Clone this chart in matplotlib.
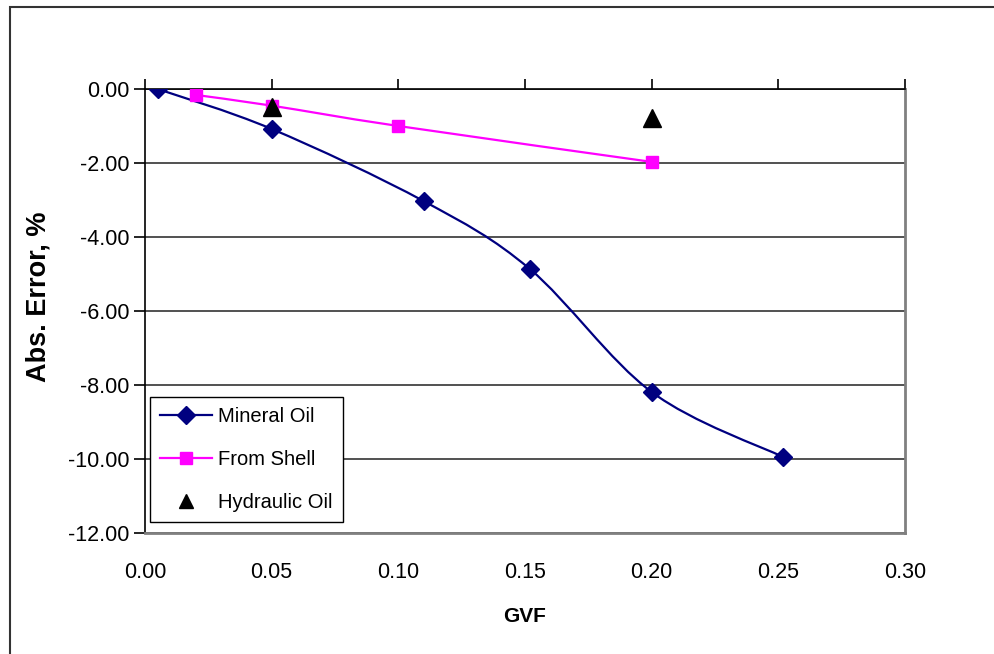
import numpy as np
import matplotlib.pyplot as plt
from matplotlib.path import Path
from matplotlib.patches import PathPatch, Rectangle
from matplotlib.lines import Line2D

plt.rcParams['font.family'] = ['Liberation Sans', 'DejaVu Sans']

# data
mineral_gvf = [0.005, 0.05, 0.11, 0.152, 0.20, 0.252]
mineral_err = [0.0, -1.08, -3.03, -4.87, -8.19, -9.95]

shell_gvf = [0.02, 0.05, 0.10, 0.20]
shell_err = [-0.16, -0.45, -1.00, -1.97]

hydraulic_gvf = [0.05, 0.20]
hydraulic_err = [-0.49, -0.78]

x_ticks = [0.00, 0.05, 0.10, 0.15, 0.20, 0.25, 0.30]
y_ticks = [0, -2, -4, -6, -8, -10, -12]


def smooth_path(xs, ys):
    # Excel-style smoothed line: cubic bezier segments through the points
    pts = np.column_stack([xs, ys])
    n = len(pts)
    verts = [pts[0]]
    codes = [Path.MOVETO]
    for i in range(n - 1):
        p0 = pts[i - 1] if i > 0 else pts[i]
        p1 = pts[i]
        p2 = pts[i + 1]
        p3 = pts[i + 2] if i + 2 < n else pts[i + 1]
        c1 = p1 + (p2 - p0) / 6.0
        c2 = p2 - (p3 - p1) / 6.0
        verts += [c1, c2, p2]
        codes += [Path.CURVE4] * 3
    return Path(verts, codes)


fig = plt.figure(figsize=(9.95, 6.54), dpi=100)
ax = fig.add_axes([145 / 995, 1 - 533 / 654, 760 / 995, 444 / 654])

# outer chart frame
fig.patches.append(Rectangle((10 / 995, -0.05), 1.2, 1 - 7 / 654 + 0.05,
                             transform=fig.transFigure, fill=False,
                             edgecolor='#333333', linewidth=1.5))

navy = '#000080'
magenta = '#FF00FF'

ax.add_patch(PathPatch(smooth_path(mineral_gvf, mineral_err), fill=False,
                       edgecolor=navy, linewidth=1.6, zorder=3))
ax.add_patch(PathPatch(smooth_path(shell_gvf, shell_err), fill=False,
                       edgecolor=magenta, linewidth=1.6, zorder=3))

ax.plot(mineral_gvf, mineral_err, linestyle='none', marker='D', markersize=9,
        color=navy, zorder=4)
ax.plot(shell_gvf, shell_err, linestyle='none', marker='s', markersize=9,
        color=magenta, zorder=4)
ax.plot(hydraulic_gvf, hydraulic_err, linestyle='none', marker='^',
        markersize=13, color='black', zorder=5)

ax.set_xlim(0, 0.30)
ax.set_ylim(-12, 0)
ax.set_xticks(x_ticks)
ax.set_yticks(y_ticks)
ax.set_xticklabels([f"{v:.2f}" for v in x_ticks])
ax.set_yticklabels([f"{v:.2f}" for v in y_ticks])

ax.grid(axis='y', color='#333333', linewidth=1.2, zorder=1)
ax.set_axisbelow(True)

ax.tick_params(axis='x', bottom=False, top=True, labelbottom=True,
               labeltop=False, direction='out', length=7, width=1.2,
               labelsize=15.5, pad=14)
ax.tick_params(axis='y', direction='out', length=8, width=1.2,
               labelsize=15.5, pad=3)

for side in ['right', 'bottom']:
    ax.spines[side].set_color('#808080')
    ax.spines[side].set_linewidth(2)
for side in ['left', 'top']:
    ax.spines[side].set_color('black')
    ax.spines[side].set_linewidth(1.2)

ax.set_xlabel('GVF', fontsize=15, fontweight='bold')
ax.xaxis.set_label_coords(0.5, -(607 - 533) / 444)
ax.set_ylabel('Abs. Error, %', fontsize=19.5, fontweight='bold')
ax.yaxis.set_label_coords(-(145 - 52) / 760, 1 - (297 - 89) / 444)

handles = [
    Line2D([], [], color=navy, marker='D', markersize=9, linewidth=1.6),
    Line2D([], [], color=magenta, marker='s', markersize=9, linewidth=1.6),
    Line2D([], [], color='black', marker='^', markersize=10, linestyle='none'),
]
leg = ax.legend(handles, ['Mineral Oil', 'From Shell', 'Hydraulic Oil'],
                loc='lower left', bbox_to_anchor=(5 / 760, 11 / 444),
                borderaxespad=0, fancybox=False, framealpha=1,
                edgecolor='black', fontsize=14.5, handlelength=2.6,
                handletextpad=0.3, labelspacing=1.2, borderpad=0.5)
leg.get_frame().set_linewidth(1.0)

fig.savefig('out.png', dpi=100)
